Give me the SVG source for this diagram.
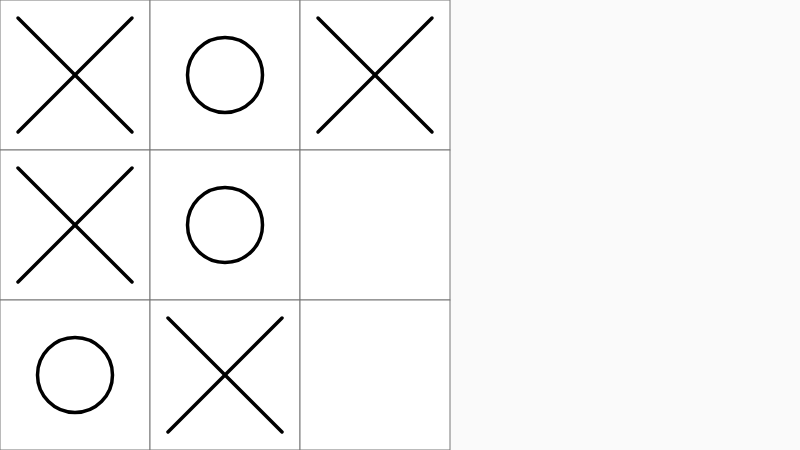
<svg xmlns="http://www.w3.org/2000/svg" width="800" height="450" viewBox="0 0 800 450">
<style>
.cell{fill:#ffffff;stroke:#777777;stroke-width:1}
.mark{fill:none;stroke:#000000;stroke-width:3.5;stroke-linecap:round}
</style>
<defs>
<g id="x"><line class="mark" x1="18" y1="18" x2="132" y2="132"/><line class="mark" x1="132" y1="18" x2="18" y2="132"/></g>
<circle id="o" class="mark" cx="75" cy="75" r="37.5"/>
</defs>
<rect x="0" y="0" width="800" height="450" fill="#fafafa"/>
<g id="board">
<rect class="cell" x="0" y="0" width="150" height="150"/>
<rect class="cell" x="150" y="0" width="150" height="150"/>
<rect class="cell" x="300" y="0" width="150" height="150"/>
<rect class="cell" x="0" y="150" width="150" height="150"/>
<rect class="cell" x="150" y="150" width="150" height="150"/>
<rect class="cell" x="300" y="150" width="150" height="150"/>
<rect class="cell" x="0" y="300" width="150" height="150"/>
<rect class="cell" x="150" y="300" width="150" height="150"/>
<rect class="cell" x="300" y="300" width="150" height="150"/>
</g>
<g id="c00"><use href="#x" x="0" y="0"/></g>
<g id="c01"><use href="#o" x="150" y="0"/></g>
<g id="c02"><use href="#x" x="300" y="0"/></g>
<g id="c10"><use href="#x" x="0" y="150"/></g>
<g id="c11"><use href="#o" x="150" y="150"/></g>
<g id="c20"><use href="#o" x="0" y="300"/></g>
<g id="c21"><use href="#x" x="150" y="300"/></g>
<g id="connectors"/>
</svg>
